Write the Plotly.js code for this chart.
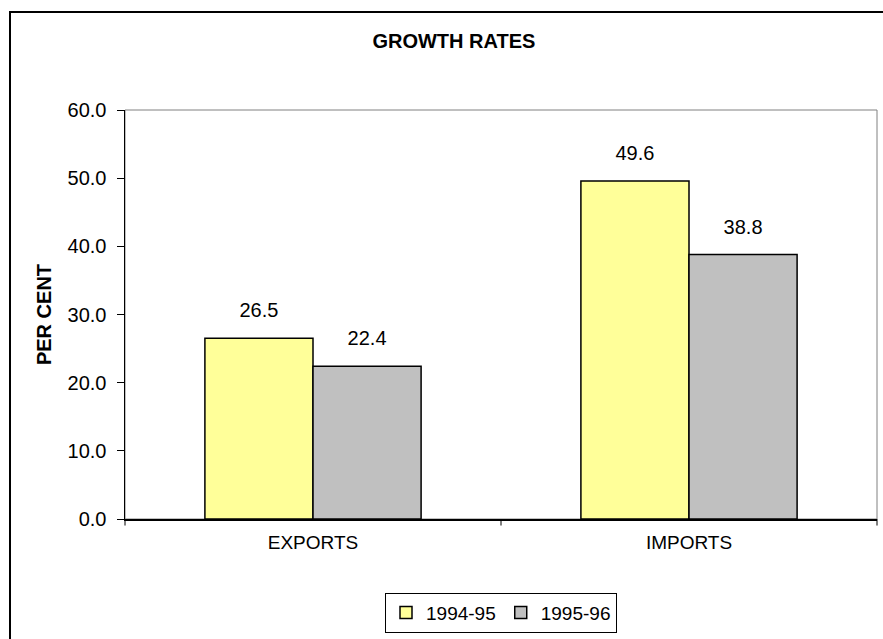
<!DOCTYPE html>
<html><head><meta charset="utf-8">
<script src="https://cdn.plot.ly/plotly-3.0.1.min.js"></script>
<style>html,body{margin:0;padding:0;background:#fff}</style>
</head><body>
<div id="chart" style="width:883px;height:639px"></div>
<script>
const categories = ["EXPORTS", "IMPORTS"];
const series1Name = "1994-95";
const series1 = [26.5, 49.6];
const series2Name = "1995-96";
const series2 = [22.4, 38.8];
const yTicks = [0, 10, 20, 30, 40, 50, 60];

const font = "Liberation Sans, Arial, sans-serif";
function barTrace(name, vals, color, grp) {
  return {type: "bar", name: name, x: categories, y: vals, offsetgroup: grp,
    marker: {color: color, line: {color: "#000", width: 1.5}}, hoverinfo: "skip"};
}
function labelTrace(vals, grp) {
  return {type: "scatter", mode: "markers+text", x: categories, y: vals, offsetgroup: grp,
    showlegend: false, cliponaxis: false, hoverinfo: "skip",
    marker: {size: 24, color: "rgba(0,0,0,0)"},
    text: vals.map(v => v.toFixed(1)), textposition: "top center",
    textfont: {family: font, size: 20, color: "#000"}};
}
const traces = [
  barTrace(series1Name, series1, "#FFFF99", "a"),
  barTrace(series2Name, series2, "#C0C0C0", "b"),
  labelTrace(series1, "a"),
  labelTrace(series2, "b")
];
const layout = {
  width: 883, height: 639,
  margin: {l: 125, r: 6, t: 110, b: 109},
  paper_bgcolor: "#fff", plot_bgcolor: "#fff",
  font: {family: font, color: "#000"},
  title: {text: "<b>GROWTH RATES</b>", font: {family: font, size: 20, color: "#000"},
          xref: "container", x: 0.514, xanchor: "center", yref: "container", y: 1 - 41/639, yanchor: "middle"},
  barmode: "group", scattermode: "group", bargap: 0.425, bargroupgap: 0,
  xaxis: {showgrid: false, zeroline: false, showline: true, linecolor: "#000", linewidth: 1.5,
          tickfont: {family: font, size: 19, color: "#000"}, ticks: "", ticklabelstandoff: 6},
  yaxis: {range: [0, 60], tickvals: yTicks, ticktext: yTicks.map(v => v.toFixed(1)),
          showgrid: false, zeroline: false, showline: true, linecolor: "#000", linewidth: 1.5,
          ticks: "outside", ticklen: 7, tickcolor: "#000", tickwidth: 1, ticklabelstandoff: 6,
          tickfont: {family: font, size: 20, color: "#000"},
          title: {text: "<b>PER CENT</b>", font: {family: font, size: 20, color: "#000"}, standoff: 10}},
  legend: {orientation: "h", x: 0.5, xanchor: "center", y: -0.18, yanchor: "top",
           bordercolor: "#000", borderwidth: 1, font: {family: font, size: 19, color: "#000"},
           itemwidth: 30, traceorder: "normal"},
  shapes: [
    {type: "rect", xref: "paper", yref: "paper", x0: 0, x1: 1, y0: 0, y1: 1,
     line: {color: "#808080", width: 1}, layer: "below"},
    {type: "line", xref: "paper", yref: "paper", x0: 0.5, x1: 0.5, y0: 0, y1: -0.016,
     line: {color: "#000", width: 1}},
    {type: "line", xref: "paper", yref: "paper", x0: 1, x1: 1, y0: 0, y1: -0.016,
     line: {color: "#000", width: 1}},
    {type: "line", xref: "paper", yref: "paper", x0: 0, x1: 0, y0: 0, y1: -0.016,
     line: {color: "#000", width: 1}}
  ],
  showlegend: true
};
Plotly.newPlot("chart", traces, layout, {displayModeBar: false, staticPlot: true}).then(() => {
  const svg = document.querySelector("#chart svg.main-svg");
  const ns = "http://www.w3.org/2000/svg";
  const r = document.createElementNS(ns, "rect");
  r.setAttribute("x", 10); r.setAttribute("y", 12);
  r.setAttribute("width", 900); r.setAttribute("height", 700);
  r.setAttribute("fill", "none"); r.setAttribute("stroke", "#000"); r.setAttribute("stroke-width", 2);
  svg.appendChild(r);
});
</script>
</body></html>
